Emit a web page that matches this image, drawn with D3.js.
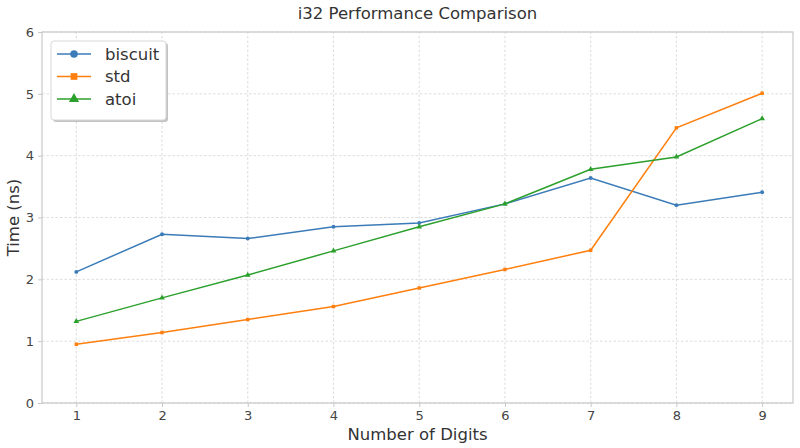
<!DOCTYPE html>
<html>
<head>
<meta charset="utf-8">
<script src="https://cdn.jsdelivr.net/npm/d3@7"></script>
<style>
  body { margin: 0; background: #fff; }
  text { font-family: "DejaVu Sans", sans-serif; }
</style>
</head>
<body>
<script>
(function(){
    "use strict";
    const digits = [1, 2, 3, 4, 5, 6, 7, 8, 9];
    const biscuit = [2.12, 2.73, 2.66, 2.85, 2.91, 3.22, 3.64, 3.20, 3.41];
    const stdVals = [0.95, 1.14, 1.35, 1.56, 1.86, 2.16, 2.47, 4.45, 5.01];
    const atoi = [1.32, 1.70, 2.07, 2.46, 2.85, 3.22, 3.78, 3.98, 4.60];
    const yTicks = [0, 1, 2, 3, 4, 5, 6];

    const series = [
        {name: "biscuit", values: biscuit, color: "#3a7bb8", shape: d3.symbolCircle},
        {name: "std", values: stdVals, color: "#ff7f0e", shape: d3.symbolSquare},
        {name: "atoi", values: atoi, color: "#2ca02c", shape: d3.symbolTriangle}
    ];

    let width = 800, height = 448;
    let margin = {top: 32, right: 7, bottom: 45, left: 42};

    let svg = d3.select("body").append("svg")
        .attr("width", width)
        .attr("height", height);

    let xScale = d3.scaleLinear()
        .domain([0.6, 9.36])
        .range([margin.left, width - margin.right]);
    let yScale = d3.scaleLinear()
        .domain([0, 6])
        .range([height - margin.bottom, margin.top]);

    // grid
    let grid = svg.append("g");
    grid.selectAll(".vg").data(digits).enter().append("line")
        .attr("x1", d => xScale(d)).attr("x2", d => xScale(d))
        .attr("y1", yScale(0)).attr("y2", yScale(6))
        .attr("stroke", "#d4d4d4").attr("stroke-width", 0.8)
        .attr("stroke-dasharray", "2.5,2");
    grid.selectAll(".hg").data(yTicks).enter().append("line")
        .attr("x1", xScale.range()[0]).attr("x2", xScale.range()[1])
        .attr("y1", d => yScale(d)).attr("y2", d => yScale(d))
        .attr("stroke", "#d4d4d4").attr("stroke-width", 0.8)
        .attr("stroke-dasharray", "2.5,2");

    // frame
    svg.append("rect")
        .attr("x", xScale.range()[0]).attr("y", yScale(6))
        .attr("width", xScale.range()[1] - xScale.range()[0])
        .attr("height", yScale(0) - yScale(6))
        .attr("fill", "none").attr("stroke", "#c8c8c8").attr("stroke-width", 1.2);

    // axes
    let xAxis = svg.append("g")
        .attr("transform", "translate(0," + yScale(0) + ")")
        .call(d3.axisBottom(xScale).tickValues(digits).tickSize(4).tickPadding(4));
    let yAxis = svg.append("g")
        .attr("transform", "translate(" + xScale.range()[0] + ",0)")
        .call(d3.axisLeft(yScale).tickValues(yTicks).tickFormat(d3.format("d")).tickSize(4).tickPadding(4));
    [xAxis, yAxis].forEach(function(a) {
        a.select(".domain").remove();
        a.selectAll(".tick line").attr("stroke", "#c8c8c8");
        a.selectAll(".tick text").attr("fill", "#444").style("font-size", "13px");
    });

    // lines
    let line = d3.line()
        .x((d, i) => xScale(digits[i]))
        .y(d => yScale(d));
    series.forEach(function(s) {
        svg.append("path")
            .datum(s.values)
            .attr("d", line)
            .attr("fill", "none")
            .attr("stroke", s.color)
            .attr("stroke-width", 1.5);
        svg.selectAll(".pt-" + s.name).data(s.values).enter().append("path")
            .attr("d", d3.symbol().type(s.shape).size(s.shape === d3.symbolTriangle ? 14 : 12))
            .attr("transform", (d, i) => "translate(" + xScale(digits[i]) + "," + yScale(d) + ")")
            .attr("fill", s.color);
    });

    // titles
    svg.append("text")
        .attr("x", (xScale.range()[0] + xScale.range()[1]) / 2)
        .attr("y", 19)
        .attr("text-anchor", "middle")
        .attr("fill", "#333")
        .style("font-size", "16.5px")
        .text("i32 Performance Comparison");
    svg.append("text")
        .attr("x", (xScale.range()[0] + xScale.range()[1]) / 2)
        .attr("y", 440)
        .attr("text-anchor", "middle")
        .attr("fill", "#333")
        .style("font-size", "16.5px")
        .text("Number of Digits");
    svg.append("text")
        .attr("transform", "rotate(-90)")
        .attr("x", -(yScale(0) + yScale(6)) / 2)
        .attr("y", 19)
        .attr("text-anchor", "middle")
        .attr("fill", "#333")
        .style("font-size", "16.5px")
        .text("Time (ns)");

    // legend
    let legend = svg.append("g").attr("transform", "translate(51,41)");
    legend.append("rect")
        .attr("x", 2).attr("y", 2).attr("width", 115).attr("height", 79)
        .attr("rx", 3).attr("fill", "#888").attr("opacity", 0.5);
    legend.append("rect")
        .attr("width", 115).attr("height", 79)
        .attr("rx", 3).attr("fill", "#fff").attr("stroke", "#d8d8d8");
    series.forEach(function(s, i) {
        let y = 13 + i * 22.5;
        legend.append("line")
            .attr("x1", 6).attr("x2", 40).attr("y1", y).attr("y2", y)
            .attr("stroke", s.color).attr("stroke-width", 1.5);
        legend.append("path")
            .attr("d", d3.symbol().type(s.shape).size(45))
            .attr("transform", "translate(23," + y + ")")
            .attr("fill", s.color);
        legend.append("text")
            .attr("x", 54).attr("y", y)
            .attr("dy", "0.35em")
            .attr("fill", "#333")
            .style("font-size", "16.5px")
            .text(s.name);
    });
})();
</script>
</body>
</html>
